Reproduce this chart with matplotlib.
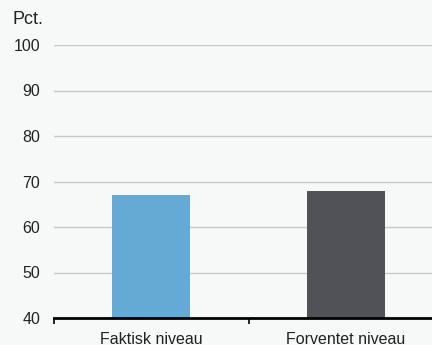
import matplotlib
matplotlib.use("Agg")
import matplotlib.pyplot as plt

categories = ["Faktisk niveau", "Forventet niveau"]
values = [67, 68]
colors = ["#64aad5", "#515258"]
yticks = [40, 50, 60, 70, 80, 90, 100]

plt.rcParams['font.family'] = ['Liberation Sans', 'DejaVu Sans']
bg = "#f7f8f8"
fig = plt.figure(figsize=(4.32, 3.45), dpi=100, facecolor=bg)
ax = fig.add_axes([54/432, 1-318/345, 1-54/432, (318-45)/345], facecolor=bg)

x = list(range(len(categories)))
ax.bar(x, values, width=0.4, color=colors, zorder=3)
ax.set_ylim(40, 100)
ax.set_xlim(-0.5, 1.443)
ax.set_yticks(yticks)
ax.set_yticklabels([str(v) for v in yticks], fontsize=11.5, color="#222222")
ax.tick_params(axis='y', length=0, pad=10)
ax.yaxis.grid(True, color="#c8c8c8", linewidth=1, zorder=0)
ax.set_xticks([-0.5, 0.5])
ax.set_xticklabels([])
ax.set_xticks(x, minor=True)
ax.set_xticklabels(categories, minor=True, fontsize=11.5, color="#222222")
ax.tick_params(axis='x', which='major', length=4, width=1.2, color="black", direction='out')
ax.tick_params(axis='x', which='minor', length=0, pad=10)
for s in ["top", "right", "left"]:
    ax.spines[s].set_visible(False)
ax.spines["bottom"].set_linewidth(2)
ax.spines["bottom"].set_color("black")
ax.spines["bottom"].set_zorder(4)
fig.text(12/432, 1-19/345, "Pct.", fontsize=13, color="#222222", ha="left", va="center")
fig.savefig("out.png", dpi=100, facecolor=bg)
